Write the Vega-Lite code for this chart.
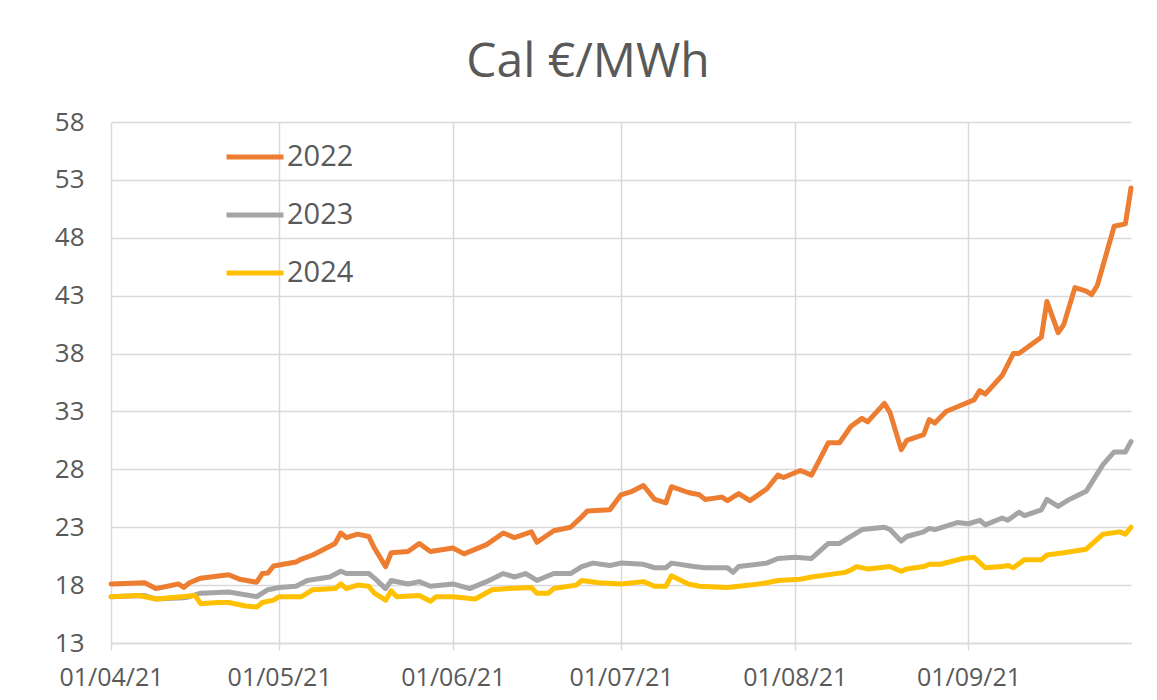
{
  "$schema": "https://vega.github.io/schema/vega-lite/v6.json",
  "width": 1020,
  "height": 521,
  "autosize": {"type": "none"},
  "padding": {"left": 111, "top": 122, "right": 26, "bottom": 57},
  "background": "white",
  "title": {"text": "Cal €/MWh", "fontSize": 48, "fontWeight": "normal", "color": "#595959", "font": "Open Sans", "anchor": "middle", "dx": -33, "offset": 22},
  "config": {"view": {"stroke": null}, "font": "Open Sans"},
  "data": {"values": [
    {"d":"2021-04-01","s":"2022","v":18.1},{"d":"2021-04-07","s":"2022","v":18.2},{"d":"2021-04-09","s":"2022","v":17.7},{"d":"2021-04-13","s":"2022","v":18.1},{"d":"2021-04-14","s":"2022","v":17.8},{"d":"2021-04-15","s":"2022","v":18.2},{"d":"2021-04-17","s":"2022","v":18.6},{"d":"2021-04-22","s":"2022","v":18.9},{"d":"2021-04-24","s":"2022","v":18.5},{"d":"2021-04-27","s":"2022","v":18.25},{"d":"2021-04-28","s":"2022","v":19.0},{"d":"2021-04-29","s":"2022","v":19.05},{"d":"2021-04-30","s":"2022","v":19.65},
    {"d":"2021-05-04","s":"2022","v":20.0},{"d":"2021-05-05","s":"2022","v":20.25},{"d":"2021-05-07","s":"2022","v":20.6},{"d":"2021-05-11","s":"2022","v":21.6},{"d":"2021-05-12","s":"2022","v":22.5},{"d":"2021-05-13","s":"2022","v":22.1},{"d":"2021-05-15","s":"2022","v":22.4},{"d":"2021-05-17","s":"2022","v":22.2},{"d":"2021-05-18","s":"2022","v":21.2},{"d":"2021-05-20","s":"2022","v":19.6},{"d":"2021-05-21","s":"2022","v":20.8},{"d":"2021-05-24","s":"2022","v":20.9},{"d":"2021-05-26","s":"2022","v":21.6},{"d":"2021-05-28","s":"2022","v":20.9},
    {"d":"2021-06-01","s":"2022","v":21.2},{"d":"2021-06-03","s":"2022","v":20.7},{"d":"2021-06-07","s":"2022","v":21.5},{"d":"2021-06-10","s":"2022","v":22.5},{"d":"2021-06-12","s":"2022","v":22.1},{"d":"2021-06-15","s":"2022","v":22.6},{"d":"2021-06-16","s":"2022","v":21.7},{"d":"2021-06-19","s":"2022","v":22.7},{"d":"2021-06-22","s":"2022","v":23.0},{"d":"2021-06-24","s":"2022","v":23.9},{"d":"2021-06-25","s":"2022","v":24.4},{"d":"2021-06-29","s":"2022","v":24.5},
    {"d":"2021-07-01","s":"2022","v":25.8},{"d":"2021-07-03","s":"2022","v":26.1},{"d":"2021-07-05","s":"2022","v":26.6},{"d":"2021-07-07","s":"2022","v":25.4},{"d":"2021-07-09","s":"2022","v":25.1},{"d":"2021-07-10","s":"2022","v":26.5},{"d":"2021-07-13","s":"2022","v":26.0},{"d":"2021-07-15","s":"2022","v":25.8},{"d":"2021-07-16","s":"2022","v":25.4},{"d":"2021-07-19","s":"2022","v":25.6},{"d":"2021-07-20","s":"2022","v":25.3},{"d":"2021-07-22","s":"2022","v":25.9},{"d":"2021-07-24","s":"2022","v":25.3},{"d":"2021-07-27","s":"2022","v":26.3},{"d":"2021-07-29","s":"2022","v":27.5},{"d":"2021-07-30","s":"2022","v":27.3},
    {"d":"2021-08-02","s":"2022","v":27.9},{"d":"2021-08-04","s":"2022","v":27.5},{"d":"2021-08-07","s":"2022","v":30.3},{"d":"2021-08-09","s":"2022","v":30.3},{"d":"2021-08-11","s":"2022","v":31.7},{"d":"2021-08-13","s":"2022","v":32.4},{"d":"2021-08-14","s":"2022","v":32.1},{"d":"2021-08-17","s":"2022","v":33.7},{"d":"2021-08-18","s":"2022","v":32.9},{"d":"2021-08-20","s":"2022","v":29.7},{"d":"2021-08-21","s":"2022","v":30.5},{"d":"2021-08-24","s":"2022","v":31.0},{"d":"2021-08-25","s":"2022","v":32.3},{"d":"2021-08-26","s":"2022","v":32.0},{"d":"2021-08-28","s":"2022","v":33.0},{"d":"2021-08-31","s":"2022","v":33.6},
    {"d":"2021-09-02","s":"2022","v":34.0},{"d":"2021-09-03","s":"2022","v":34.8},{"d":"2021-09-04","s":"2022","v":34.5},{"d":"2021-09-07","s":"2022","v":36.1},{"d":"2021-09-09","s":"2022","v":38.0},{"d":"2021-09-10","s":"2022","v":38.0},{"d":"2021-09-14","s":"2022","v":39.4},{"d":"2021-09-15","s":"2022","v":42.5},{"d":"2021-09-17","s":"2022","v":39.8},{"d":"2021-09-18","s":"2022","v":40.5},{"d":"2021-09-20","s":"2022","v":43.7},{"d":"2021-09-22","s":"2022","v":43.4},{"d":"2021-09-23","s":"2022","v":43.1},{"d":"2021-09-24","s":"2022","v":43.9},{"d":"2021-09-27","s":"2022","v":49.0},{"d":"2021-09-29","s":"2022","v":49.2},{"d":"2021-09-30","s":"2022","v":52.3},

    {"d":"2021-04-01","s":"2023","v":17.0},{"d":"2021-04-07","s":"2023","v":17.1},{"d":"2021-04-09","s":"2023","v":16.8},{"d":"2021-04-14","s":"2023","v":16.9},{"d":"2021-04-15","s":"2023","v":17.0},{"d":"2021-04-17","s":"2023","v":17.3},{"d":"2021-04-22","s":"2023","v":17.4},{"d":"2021-04-27","s":"2023","v":17.0},{"d":"2021-04-29","s":"2023","v":17.6},
    {"d":"2021-05-01","s":"2023","v":17.8},{"d":"2021-05-04","s":"2023","v":17.9},{"d":"2021-05-06","s":"2023","v":18.4},{"d":"2021-05-10","s":"2023","v":18.7},{"d":"2021-05-12","s":"2023","v":19.2},{"d":"2021-05-13","s":"2023","v":19.0},{"d":"2021-05-17","s":"2023","v":19.0},{"d":"2021-05-18","s":"2023","v":18.6},{"d":"2021-05-20","s":"2023","v":17.7},{"d":"2021-05-21","s":"2023","v":18.4},{"d":"2021-05-24","s":"2023","v":18.1},{"d":"2021-05-26","s":"2023","v":18.3},{"d":"2021-05-28","s":"2023","v":17.9},
    {"d":"2021-06-01","s":"2023","v":18.1},{"d":"2021-06-04","s":"2023","v":17.7},{"d":"2021-06-07","s":"2023","v":18.3},{"d":"2021-06-10","s":"2023","v":19.0},{"d":"2021-06-12","s":"2023","v":18.7},{"d":"2021-06-14","s":"2023","v":19.0},{"d":"2021-06-16","s":"2023","v":18.4},{"d":"2021-06-19","s":"2023","v":19.0},{"d":"2021-06-22","s":"2023","v":19.0},{"d":"2021-06-24","s":"2023","v":19.6},{"d":"2021-06-26","s":"2023","v":19.9},{"d":"2021-06-29","s":"2023","v":19.7},
    {"d":"2021-07-01","s":"2023","v":19.9},{"d":"2021-07-05","s":"2023","v":19.8},{"d":"2021-07-07","s":"2023","v":19.5},{"d":"2021-07-09","s":"2023","v":19.5},{"d":"2021-07-10","s":"2023","v":19.9},{"d":"2021-07-14","s":"2023","v":19.6},{"d":"2021-07-16","s":"2023","v":19.5},{"d":"2021-07-20","s":"2023","v":19.5},{"d":"2021-07-21","s":"2023","v":19.1},{"d":"2021-07-22","s":"2023","v":19.6},{"d":"2021-07-27","s":"2023","v":19.9},{"d":"2021-07-29","s":"2023","v":20.3},
    {"d":"2021-08-01","s":"2023","v":20.4},{"d":"2021-08-04","s":"2023","v":20.3},{"d":"2021-08-07","s":"2023","v":21.6},{"d":"2021-08-09","s":"2023","v":21.6},{"d":"2021-08-13","s":"2023","v":22.8},{"d":"2021-08-17","s":"2023","v":23.0},{"d":"2021-08-18","s":"2023","v":22.8},{"d":"2021-08-20","s":"2023","v":21.8},{"d":"2021-08-21","s":"2023","v":22.2},{"d":"2021-08-24","s":"2023","v":22.6},{"d":"2021-08-25","s":"2023","v":22.9},{"d":"2021-08-26","s":"2023","v":22.8},{"d":"2021-08-30","s":"2023","v":23.4},
    {"d":"2021-09-01","s":"2023","v":23.3},{"d":"2021-09-03","s":"2023","v":23.6},{"d":"2021-09-04","s":"2023","v":23.2},{"d":"2021-09-07","s":"2023","v":23.8},{"d":"2021-09-08","s":"2023","v":23.6},{"d":"2021-09-10","s":"2023","v":24.3},{"d":"2021-09-11","s":"2023","v":24.0},{"d":"2021-09-14","s":"2023","v":24.5},{"d":"2021-09-15","s":"2023","v":25.4},{"d":"2021-09-17","s":"2023","v":24.8},{"d":"2021-09-19","s":"2023","v":25.4},{"d":"2021-09-22","s":"2023","v":26.1},{"d":"2021-09-25","s":"2023","v":28.4},{"d":"2021-09-27","s":"2023","v":29.5},{"d":"2021-09-29","s":"2023","v":29.5},{"d":"2021-09-30","s":"2023","v":30.4},

    {"d":"2021-04-01","s":"2024","v":17.0},{"d":"2021-04-06","s":"2024","v":17.1},{"d":"2021-04-09","s":"2024","v":16.8},{"d":"2021-04-16","s":"2024","v":17.1},{"d":"2021-04-17","s":"2024","v":16.4},{"d":"2021-04-20","s":"2024","v":16.5},{"d":"2021-04-22","s":"2024","v":16.5},{"d":"2021-04-25","s":"2024","v":16.2},{"d":"2021-04-27","s":"2024","v":16.1},{"d":"2021-04-28","s":"2024","v":16.5},{"d":"2021-04-30","s":"2024","v":16.7},
    {"d":"2021-05-01","s":"2024","v":17.0},{"d":"2021-05-05","s":"2024","v":17.0},{"d":"2021-05-07","s":"2024","v":17.6},{"d":"2021-05-11","s":"2024","v":17.7},{"d":"2021-05-12","s":"2024","v":18.1},{"d":"2021-05-13","s":"2024","v":17.7},{"d":"2021-05-15","s":"2024","v":18.0},{"d":"2021-05-17","s":"2024","v":17.9},{"d":"2021-05-18","s":"2024","v":17.3},{"d":"2021-05-20","s":"2024","v":16.7},{"d":"2021-05-21","s":"2024","v":17.5},{"d":"2021-05-22","s":"2024","v":17.0},{"d":"2021-05-26","s":"2024","v":17.1},{"d":"2021-05-28","s":"2024","v":16.6},{"d":"2021-05-29","s":"2024","v":17.0},
    {"d":"2021-06-01","s":"2024","v":17.0},{"d":"2021-06-05","s":"2024","v":16.8},{"d":"2021-06-08","s":"2024","v":17.6},{"d":"2021-06-11","s":"2024","v":17.7},{"d":"2021-06-15","s":"2024","v":17.8},{"d":"2021-06-16","s":"2024","v":17.3},{"d":"2021-06-18","s":"2024","v":17.3},{"d":"2021-06-19","s":"2024","v":17.7},{"d":"2021-06-23","s":"2024","v":18.0},{"d":"2021-06-24","s":"2024","v":18.4},{"d":"2021-06-27","s":"2024","v":18.2},
    {"d":"2021-07-01","s":"2024","v":18.1},{"d":"2021-07-05","s":"2024","v":18.3},{"d":"2021-07-07","s":"2024","v":17.9},{"d":"2021-07-09","s":"2024","v":17.9},{"d":"2021-07-10","s":"2024","v":18.8},{"d":"2021-07-13","s":"2024","v":18.1},{"d":"2021-07-15","s":"2024","v":17.9},{"d":"2021-07-20","s":"2024","v":17.8},{"d":"2021-07-24","s":"2024","v":18.0},{"d":"2021-07-27","s":"2024","v":18.2},{"d":"2021-07-29","s":"2024","v":18.4},
    {"d":"2021-08-02","s":"2024","v":18.5},{"d":"2021-08-04","s":"2024","v":18.7},{"d":"2021-08-10","s":"2024","v":19.1},{"d":"2021-08-11","s":"2024","v":19.3},{"d":"2021-08-12","s":"2024","v":19.6},{"d":"2021-08-14","s":"2024","v":19.4},{"d":"2021-08-18","s":"2024","v":19.6},{"d":"2021-08-20","s":"2024","v":19.2},{"d":"2021-08-21","s":"2024","v":19.4},{"d":"2021-08-24","s":"2024","v":19.6},{"d":"2021-08-25","s":"2024","v":19.8},{"d":"2021-08-27","s":"2024","v":19.8},{"d":"2021-08-31","s":"2024","v":20.3},
    {"d":"2021-09-02","s":"2024","v":20.4},{"d":"2021-09-04","s":"2024","v":19.5},{"d":"2021-09-07","s":"2024","v":19.6},{"d":"2021-09-08","s":"2024","v":19.7},{"d":"2021-09-09","s":"2024","v":19.5},{"d":"2021-09-11","s":"2024","v":20.2},{"d":"2021-09-14","s":"2024","v":20.2},{"d":"2021-09-15","s":"2024","v":20.6},{"d":"2021-09-18","s":"2024","v":20.8},{"d":"2021-09-22","s":"2024","v":21.1},{"d":"2021-09-25","s":"2024","v":22.4},{"d":"2021-09-28","s":"2024","v":22.6},{"d":"2021-09-29","s":"2024","v":22.4},{"d":"2021-09-30","s":"2024","v":23.0}
  ]},
  "mark": {"type": "line", "strokeWidth": 5, "strokeJoin": "round", "strokeCap": "round"},
  "encoding": {
    "x": {
      "field": "d", "type": "temporal",
      "scale": {"type": "utc", "domain": [{"year": 2021, "month": 4, "date": 1, "utc": true}, {"year": 2021, "month": 9, "date": 30, "utc": true}]},
      "axis": {
        "title": null,
        "labelExpr": "utcFormat(datum.value, '%d/%m/%y')",
        "values": [
          {"year": 2021, "month": 4, "date": 1, "utc": true},
          {"year": 2021, "month": 5, "date": 1, "utc": true},
          {"year": 2021, "month": 6, "date": 1, "utc": true},
          {"year": 2021, "month": 7, "date": 1, "utc": true},
          {"year": 2021, "month": 8, "date": 1, "utc": true},
          {"year": 2021, "month": 9, "date": 1, "utc": true}
        ],
        "labelFlush": false, "labelOverlap": false,
        "grid": true, "gridColor": "#d9d9d9", "gridWidth": 1.5,
        "domain": true, "domainColor": "#d9d9d9", "domainWidth": 1.5,
        "ticks": true, "tickSize": 7, "tickColor": "#d9d9d9", "tickWidth": 1.5,
        "labelFontSize": 25, "labelColor": "#595959", "labelPadding": 15, "labelFont": "Open Sans"
      }
    },
    "y": {
      "field": "v", "type": "quantitative",
      "scale": {"domain": [13, 58], "nice": false, "zero": false},
      "axis": {
        "title": null, "values": [13, 18, 23, 28, 33, 38, 43, 48, 53, 58],
        "grid": true, "gridColor": "#d9d9d9", "gridWidth": 1.5,
        "domain": false, "ticks": false,
        "labelFontSize": 26, "labelColor": "#595959", "labelPadding": 27, "labelFont": "Open Sans"
      }
    },
    "color": {
      "field": "s", "type": "nominal",
      "scale": {"domain": ["2022", "2023", "2024"], "range": ["#ED7D31", "#A5A5A5", "#FFC000"]},
      "legend": {
        "title": null, "orient": "none", "legendX": 113, "legendY": 4,
        "symbolType": "stroke", "symbolSize": 3249, "symbolStrokeWidth": 5,
        "labelFontSize": 29, "labelColor": "#595959", "labelFont": "Open Sans", "labelOffset": 1,
        "rowPadding": 12
      }
    }
  }
}
